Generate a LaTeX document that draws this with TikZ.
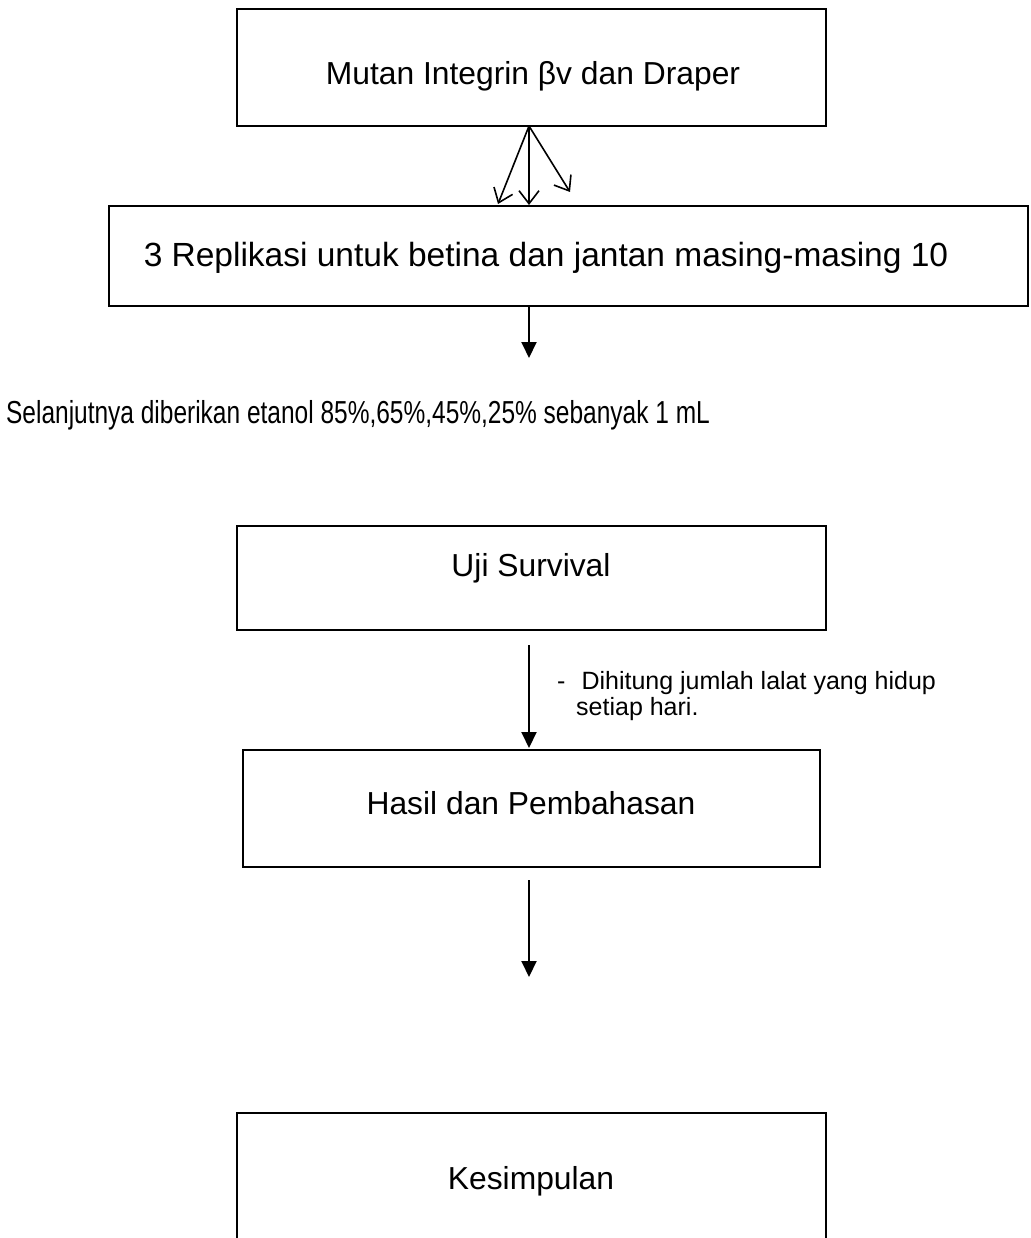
\documentclass[tikz,border=0pt]{standalone}
\usepackage{fontspec}
\setmainfont{Liberation Sans}
\usetikzlibrary{arrows.meta}
\begin{document}
\begin{tikzpicture}[x=1pt,y=-1pt,
  boxline/.style={draw=black,line width=2pt},
  boxtext/.style={font=\fontsize{31.8}{36}\selectfont,inner sep=0pt},
  sidetext/.style={font=\fontsize{25}{26}\selectfont,inner sep=0pt,align=left,anchor=west},
  openarrow/.style={line width=1.6pt,-{Straight Barb[length=13pt,width=20pt,line width=1.6pt]}},
  fillarrow/.style={line width=2pt,-{Triangle[length=16pt,width=15pt]}}]
\useasboundingbox (0,0) rectangle (1030,1238);
\begin{scope}
\clip (0,0) rectangle (1030,1238);
% boxes
\draw[boxline] (237,9) rectangle (826,126);
\draw[boxline] (109,206) rectangle (1028,306);
\draw[boxline] (237,526) rectangle (826,630);
\draw[boxline] (243,750) rectangle (820,867);
\draw[boxline] (237,1113) rectangle (826,1260);
\end{scope}
% box texts
\node[boxtext] (t1) at (533,76) {Mutan Integrin βv dan Draper};
\node[boxtext,font=\fontsize{33.5}{38}\selectfont] (t2) at (546,258) {3 Replikasi untuk betina dan jantan masing-masing 10};
\node[boxtext] (t3) at (531,568) {Uji Survival};
\node[boxtext] (t4) at (531,803) {Hasil dan Pembahasan};
\node[boxtext] (t5) at (531,1181) {Kesimpulan};
\node[boxtext,anchor=west,transform shape,xscale=0.77] (sel) at (6,415) {Selanjutnya diberikan etanol 85\%,65\%,45\%,25\% sebanyak 1 mL};
\node[sidetext] (side) at (557,696) {-\hspace{16pt}Dihitung jumlah lalat yang hidup\\\hspace{19pt}setiap hari.};
% connectors
\coordinate (o1) at (529,126);
\coordinate (e1) at (498,204);
\coordinate (e2) at (529,205);
\coordinate (e3) at (570,192);
\draw[openarrow] (o1) -- (e1);
\draw[openarrow] (o1) -- (e2);
\draw[openarrow] (o1) -- (e3);
\coordinate (a2s) at (529,306);
\coordinate (a2e) at (529,358);
\draw[fillarrow] (a2s) -- (a2e);
\coordinate (a3s) at (529,645);
\coordinate (a3e) at (529,748);
\draw[fillarrow] (a3s) -- (a3e);
\coordinate (a4s) at (529,880);
\coordinate (a4e) at (529,977);
\draw[fillarrow] (a4s) -- (a4e);
\end{tikzpicture}
\end{document}
